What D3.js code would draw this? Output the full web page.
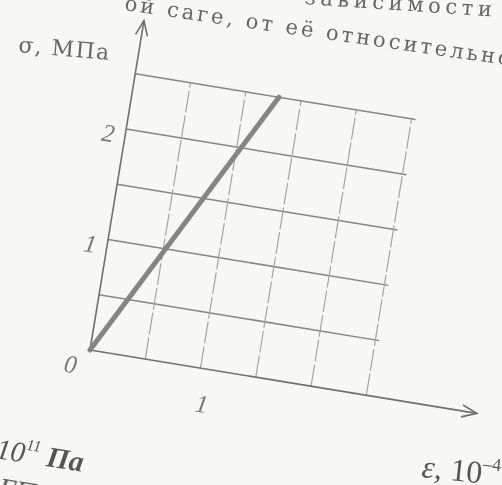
<!DOCTYPE html>
<html>
<head>
<meta charset="utf-8">
<script src="https://cdn.jsdelivr.net/npm/d3@7"></script>
<style>
  html, body { margin: 0; padding: 0; background: #f7f7f5; overflow: hidden; }
</style>
</head>
<body>
<div id="chart"></div>
<script>
// Stress vs relative strain
const strain = [0, 1.3];             // ε, 10^-4
const stress = [0, 2.5];             // σ, MPa
const gridSteps = [0.5, 1, 1.5, 2, 2.5];
const yTickLabels = [1, 2];
const xTickLabels = [1];
const xAxisEnd = 3.5;                // arrow tips, in axis units
const yAxisEnd = 2.98;

const width = 502;
const height = 485;
const tilt = 9.3;                    // the page is scanned at an angle
const origin = [90, 350];

const svg = d3.select('#chart')
  .append('svg')
  .attr('width', width)
  .attr('height', height)
  .style('display', 'block');

// soften everything a little, like a scan
svg.append('defs').append('filter')
  .attr('id', 'scan')
  .append('feGaussianBlur')
  .attr('stdDeviation', 0.45);

const root = svg.append('g').attr('filter', 'url(#scan)');

root.append('rect')
  .attr('width', width)
  .attr('height', height)
  .attr('fill', '#f7f7f5');

// Page text around the figure
const serifWide = '"DejaVu Serif", serif';
const serif = '"Liberation Serif", "DejaVu Serif", serif';

root.append('text')
  .attr('transform', 'translate(304,4) rotate(3.8)')
  .attr('font-family', serifWide)
  .attr('font-size', 21)
  .attr('letter-spacing', 4.6)
  .attr('fill', '#666')
  .text('зависимости');

root.append('text')
  .attr('transform', 'translate(124,10) rotate(8.2)')
  .attr('font-family', serifWide)
  .attr('font-size', 21)
  .attr('letter-spacing', 3.1)
  .attr('fill', '#666')
  .text('ой саге, от её относительной');

root.append('text')
  .attr('transform', 'translate(18,52) rotate(5)')
  .attr('font-family', serifWide)
  .attr('font-size', 22)
  .attr('letter-spacing', 1.4)
  .attr('fill', '#666')
  .text('σ, МПа');

const bottomLeft = root.append('text')
  .attr('transform', 'translate(-5,458) rotate(9)')
  .attr('font-family', serif)
  .attr('font-style', 'italic')
  .attr('font-size', 29)
  .attr('fill', '#555');
bottomLeft.append('tspan').text('10');
bottomLeft.append('tspan').attr('font-size', 16).attr('dy', -13).text('11');
bottomLeft.append('tspan').attr('dy', 13).attr('font-weight', 'bold').text(' Па');

root.append('text')
  .attr('transform', 'translate(-3,497) rotate(9)')
  .attr('font-family', serif)
  .attr('font-style', 'italic')
  .attr('font-size', 29)
  .attr('fill', '#555')
  .text('ГПа');

const bottomRight = root.append('text')
  .attr('transform', 'translate(421,477) rotate(6)')
  .attr('font-family', serif)
  .attr('font-size', 32)
  .attr('fill', '#555');
bottomRight.append('tspan').attr('font-style', 'italic').text('ε, ');
bottomRight.append('tspan').text('10');
bottomRight.append('tspan').attr('font-size', 18).attr('dy', -14).text('–4');

// The chart itself, drawn upright then tilted with the page
const g = root.append('g')
  .attr('transform', `translate(${origin[0]},${origin[1]}) rotate(${tilt})`);

const x = d3.scaleLinear().domain([0, 2.5]).range([0, 280]);
const y = d3.scaleLinear().domain([0, 2.5]).range([0, -280]);

// horizontal grid: solid
g.append('g')
  .selectAll('line')
  .data(gridSteps)
  .enter()
  .append('line')
  .attr('x1', 0)
  .attr('x2', x(2.5) + 4)
  .attr('y1', d => y(d))
  .attr('y2', d => y(d))
  .attr('stroke', '#858585')
  .attr('stroke-width', 1.5);

// vertical grid: lighter, broken
g.append('g')
  .selectAll('line')
  .data(gridSteps)
  .enter()
  .append('line')
  .attr('x1', d => x(d))
  .attr('x2', d => x(d))
  .attr('y1', 0)
  .attr('y2', y(2.5))
  .attr('stroke', '#a4a4a4')
  .attr('stroke-width', 1.2)
  .attr('stroke-dasharray', '22,3');

// axes with open arrowheads
const axisColor = '#6f6f6f';
g.append('line')
  .attr('x1', 0).attr('y1', 0)
  .attr('x2', x(xAxisEnd)).attr('y2', 0)
  .attr('stroke', axisColor)
  .attr('stroke-width', 1.6);
g.append('path')
  .attr('d', `M${x(xAxisEnd) - 15},-6 L${x(xAxisEnd)},0 L${x(xAxisEnd) - 15},6`)
  .attr('fill', 'none')
  .attr('stroke', axisColor)
  .attr('stroke-width', 1.6);

g.append('line')
  .attr('x1', 0).attr('y1', 0)
  .attr('x2', 0).attr('y2', y(yAxisEnd))
  .attr('stroke', axisColor)
  .attr('stroke-width', 1.6);
g.append('path')
  .attr('d', `M-6,${y(yAxisEnd) + 15} L0,${y(yAxisEnd)} L6,${y(yAxisEnd) + 15}`)
  .attr('fill', 'none')
  .attr('stroke', axisColor)
  .attr('stroke-width', 1.6);

// tick labels
const tickFont = {
  'font-family': serif,
  'font-style': 'italic',
  'font-size': 25,
  'fill': '#777',
  'text-anchor': 'middle',
  'dominant-baseline': 'central'
};
const applyFont = (sel) => {
  Object.entries(tickFont).forEach(([k, v]) => sel.attr(k, v));
  return sel;
};

applyFont(g.append('g')
  .selectAll('text')
  .data(yTickLabels)
  .enter()
  .append('text')
  .attr('x', -17)
  .attr('y', d => y(d) + 7)
  .text(d => d));

applyFont(g.append('text')
  .attr('x', -17)
  .attr('y', 17)
  .text('0'));

applyFont(g.append('g')
  .selectAll('text')
  .data(xTickLabels)
  .enter()
  .append('text')
  .attr('x', d => x(d) + 7)
  .attr('y', 35)
  .text(d => d));

// the σ(ε) line
const points = strain.map((e, i) => [e, stress[i]]);
g.append('path')
  .datum(points)
  .attr('d', d3.line().x(d => x(d[0])).y(d => y(d[1])))
  .attr('fill', 'none')
  .attr('stroke', '#858585')
  .attr('stroke-width', 5)
  .attr('stroke-linecap', 'round');
</script>
</body>
</html>
